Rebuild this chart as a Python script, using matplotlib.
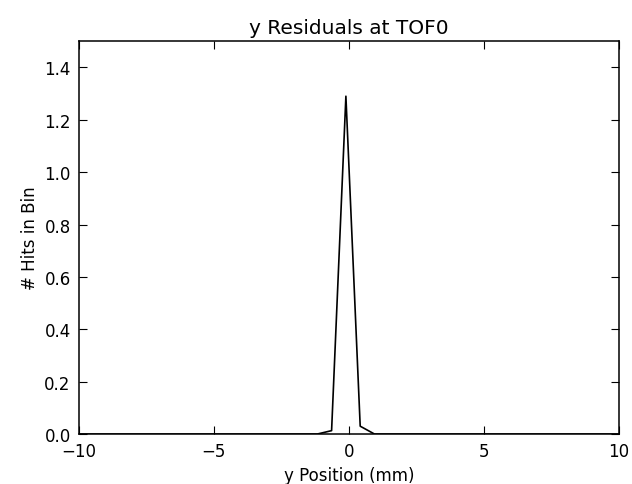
import matplotlib
matplotlib.use("Agg")
import matplotlib.pyplot as plt

# residual histogram (bin centre, hits)
pos = [-10, -1.17, -0.64, -0.11, 0.42, 0.95, 10]
hits = [0, 0, 0.013, 1.29, 0.03, 0, 0]

fig = plt.figure(figsize=(6.32, 4.85), dpi=100)
ax = fig.add_axes([0.125, 0.103, 0.854, 0.81])
ax.plot(pos, hits, color='black', lw=1.2)

ax.set_xlim(-10, 10)
ax.set_ylim(0, 1.5)
ax.set_xticks([-10, -5, 0, 5, 10])
ax.set_yticks([0.0, 0.2, 0.4, 0.6, 0.8, 1.0, 1.2, 1.4])
ax.set_yticklabels(['0.0', '0.2', '0.4', '0.6', '0.8', '1.0', '1.2', '1.4'])
ax.tick_params(direction='in', top=True, right=True, length=6, labelsize=12, pad=6)
for s in ax.spines.values():
    s.set_linewidth(1.1)
ax.set_xlabel('y Position (mm)', fontsize=12)
ax.set_ylabel('# Hits in Bin', fontsize=12)
ax.set_title('y Residuals at TOF0', fontsize=14.5)

fig.savefig('out.png', dpi=100)
